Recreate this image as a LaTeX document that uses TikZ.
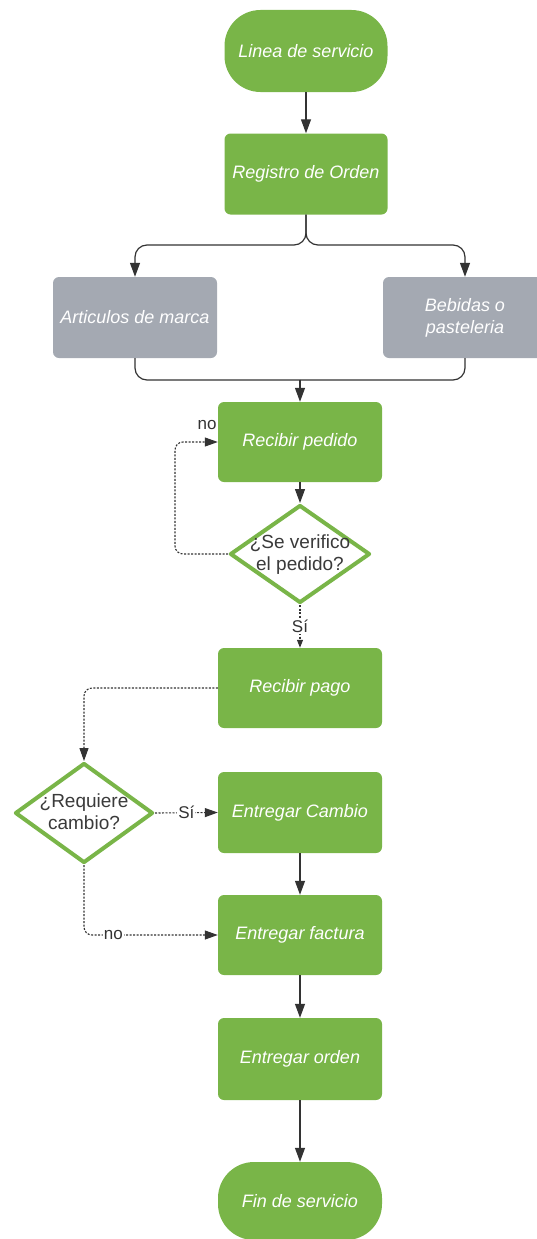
\documentclass[tikz,border=0pt]{standalone}
\usepackage{fontspec}
\setmainfont{Liberation Sans}
\usetikzlibrary{shapes.geometric,arrows.meta}
\definecolor{boxgreen}{HTML}{79B548}
\definecolor{boxgray}{HTML}{A4A9B2}
\definecolor{linegray}{HTML}{333333}
\definecolor{txtgray}{HTML}{3A3A3A}
\begin{document}
\begin{tikzpicture}[x=1pt,y=-1pt,
  proc/.style={rectangle, rounded corners=6pt, fill=boxgreen, minimum width=164pt,
    minimum height=81pt, text=white, align=center, inner sep=0pt,
    font=\fontsize{18}{22}\selectfont\itshape},
  term/.style={proc, rounded corners=36pt},
  alt/.style={proc, fill=boxgray},
  dec/.style={diamond, draw=boxgreen, line width=4pt, line join=round, fill=white,
    inner sep=0pt},
  dectext/.style={font=\fontsize{19}{22}\selectfont, text=txtgray, align=center},
  line/.style={draw=linegray, line width=1.2pt},
  flow/.style={line, -{Triangle[length=14pt,width=10pt]}},
  dotflow/.style={draw=linegray, line width=1.1pt, dash pattern=on 2pt off 1.5pt,
    -{Triangle[length=13pt,width=9pt]}},
  lbl/.style={font=\fontsize{17}{20}\selectfont, text=linegray, fill=white, inner sep=1pt}]
\useasboundingbox (0,0) rectangle (536,1239);

% process steps
\node[term, minimum width=163pt, minimum height=82pt] (start) at (306,51) {Linea de servicio};
\node[proc, minimum width=163pt] (reg) at (306,174) {Registro de Orden};
\node[alt] (art) at (135,317.5) {Articulos de marca};
\node[alt] (beb) at (465,317.5) {Bebidas o\\pasteleria};
\node[proc, minimum height=80pt] (rped) at (300,442) {Recibir pedido};
\node[dec, minimum width=140pt, minimum height=98pt] (d1) at (300,554) {};
\node[dectext] (d1t) at (300,555) {¿Se verifico\\el pedido?};
\node[proc, minimum height=80pt] (pago) at (300,688) {Recibir pago};
\node[dec, minimum width=138pt, minimum height=100pt] (d2) at (84,813) {};
\node[dectext] (d2t) at (84,812) {¿Requiere\\cambio?};
\node[proc] (cambio) at (300,812.5) {Entregar Cambio};
\node[proc, minimum height=80pt] (fact) at (300,935) {Entregar factura};
\node[proc, minimum height=82pt] (orden) at (300,1059) {Entregar orden};
\node[term, minimum height=78pt] (fin) at (300,1201) {Fin de servicio};

% branch and merge
\coordinate (split) at (306,245);
\coordinate (merge) at (300,380);
\draw[flow] (start) -- (reg);
\draw[flow, rounded corners=12pt] (reg.south) -- (split) -| (art.north);
\draw[flow, rounded corners=12pt] (reg.south) -- (split) -| (beb.north);
\draw[line, rounded corners=12pt] (art.south) |- (merge);
\draw[line, rounded corners=12pt] (beb.south) |- (merge);
\draw[flow] (merge) -- (rped.north);

% order check
\draw[flow] (rped) -- (d1.north);
\draw[dotflow, rounded corners=8pt] (d1.west) -- ++(-53,0) |- (rped.west);
\node[lbl, fill=none] (no1) at (207,425) {no};
\draw[dotflow, -{Triangle[length=8pt,width=6pt]}] (d1.south) -- node[lbl] (si1) {Sí} (pago.north);

% payment and change
\draw[dotflow, rounded corners=8pt] (pago.west) -| (d2.north);
\draw[dotflow] (d2.east) -- node[lbl] (si2) {Sí} (cambio.west);
\draw[flow] (cambio) -- (fact);
\draw[dotflow, rounded corners=8pt] (d2.south) |- node[lbl, pos=0.61] (no2) {no} (fact.west);
\draw[flow] (fact) -- (orden);
\draw[flow] (orden) -- (fin);
\end{tikzpicture}
\end{document}
